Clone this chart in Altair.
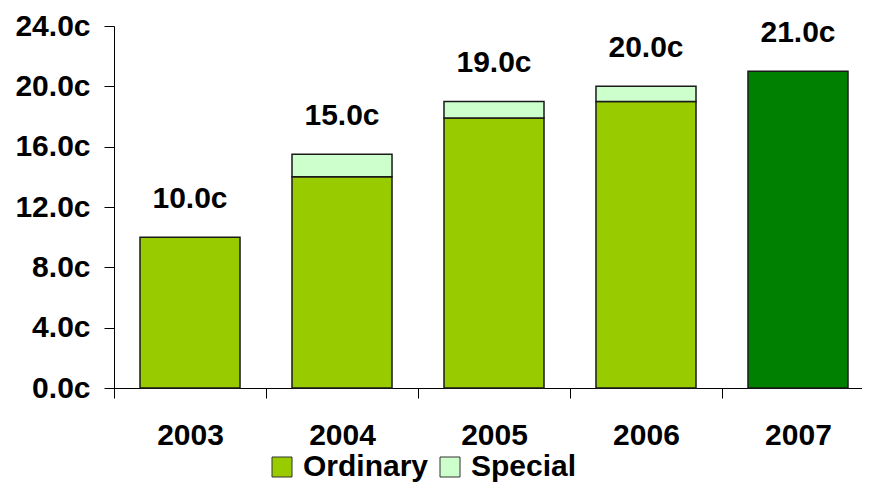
import altair as alt
import pandas as pd

years = ["2003", "2004", "2005", "2006", "2007"]
ordinary = [10.0, 14.0, 17.9, 19.0, 21.0]
special = [0.0, 1.5, 1.1, 1.0, 0.0]
labels = ["10.0c", "15.0c", "19.0c", "20.0c", "21.0c"]
y_ticks = [0, 4, 8, 12, 16, 20, 24]

series_names = ["Ordinary", "Special", "Ordinary 2007"]
series_colors = ["#99CC00", "#CCFFCC", "#008000"]

rows = []
for yr, o, s in zip(years, ordinary, special):
    rows.append({"year": yr, "series": "Ordinary 2007" if yr == "2007" else "Ordinary",
                 "value": o, "order": 0})
    if s > 0:
        rows.append({"year": yr, "series": "Special", "value": s, "order": 1})
bars_df = pd.DataFrame(rows)
lab_df = pd.DataFrame({"year": years,
                       "total": [o + s for o, s in zip(ordinary, special)],
                       "label": labels})

FONT = "Liberation Sans"

xscale = alt.Scale(paddingInner=0.342, paddingOuter=0.1316, align=0.65)
yscale = alt.Scale(domain=[0, 24], nice=False)

bars = alt.Chart(bars_df).mark_bar(stroke="#1a1a1a", strokeWidth=1.5).encode(
    x=alt.X("year:N", scale=xscale, sort=years,
            axis=alt.Axis(title=None, labelAngle=0, bandPosition=0, tickExtra=False,
                          tickOffset=-26, labelOffset=26, tickSize=10,
                          labelPadding=22, labelFont=FONT, labelFontSize=30,
                          labelFontWeight="bold", labelColor="black",
                          domainColor="black", tickColor="black")),
    y=alt.Y("value:Q", stack="zero", scale=yscale,
            axis=alt.Axis(title=None, values=y_ticks, grid=False,
                          labelExpr="format(datum.value, '.1f') + 'c'",
                          tickSize=10, labelPadding=14, labelFont=FONT,
                          labelFontSize=30, labelFontWeight="bold", labelColor="black",
                          domainColor="black", tickColor="black")),
    color=alt.Color("series:N",
                    scale=alt.Scale(domain=series_names, range=series_colors),
                    legend=alt.Legend(orient="none", legendX=153, legendY=426,
                                      direction="horizontal", title=None,
                                      values=["Ordinary", "Special"],
                                      symbolType="square", symbolSize=400,
                                      symbolStrokeColor="#333333", symbolStrokeWidth=1,
                                      symbolOpacity=1, labelFont=FONT, labelFontSize=30,
                                      labelFontWeight="bold", labelColor="black",
                                      labelOffset=6, columnPadding=6,
                                      labelLimit=300)),
    order=alt.Order("order:Q"),
)

text = alt.Chart(lab_df).mark_text(font=FONT, fontSize=30, fontWeight="bold",
                                   baseline="alphabetic", dy=-29, color="black").encode(
    x=alt.X("year:N", scale=xscale, sort=years),
    y=alt.Y("total:Q", scale=yscale),
    text="label:N",
)

chart = alt.layer(bars, text).properties(
    width=748, height=362,
    padding={"left": 106, "top": 18, "right": 0, "bottom": 94},
    autosize="none",
).configure_view(stroke=None)

chart.save("out.html", embed_options={"renderer": "svg", "actions": False})
